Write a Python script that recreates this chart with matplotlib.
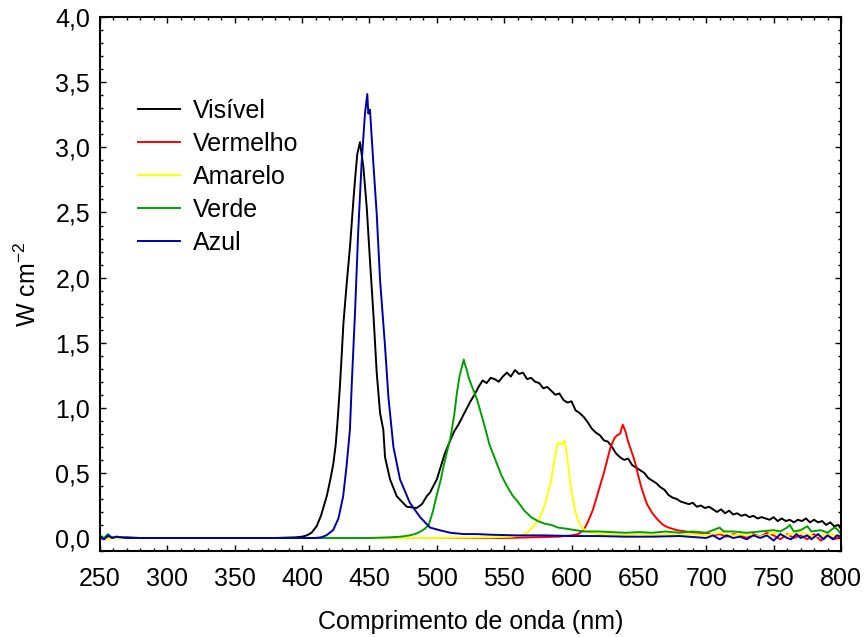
import matplotlib
matplotlib.use("Agg")
import matplotlib.pyplot as plt
from matplotlib.ticker import MultipleLocator, FuncFormatter

plt.rcParams['font.family'] = ['Liberation Sans', 'DejaVu Sans']
plt.rcParams['mathtext.default'] = 'regular'

# Visível (black)
vis_wl = [250, 253, 256, 260, 270, 280, 300, 340, 380, 395, 400, 403.5, 407, 410.8, 414, 418.3,
          421, 423.2, 425, 426.5, 428, 429.4, 430.7, 433.1, 435.6, 438, 439.3, 441, 443, 445.5,
          448, 450.4, 452.9, 455.4, 457.9, 460.3, 461.6, 465.3, 470.3, 477.7, 485, 489, 492.5,
          495, 500, 503, 506, 510, 513, 516, 519, 522, 525, 528, 531, 534, 537, 540, 543, 546,
          549, 552, 555, 558, 561, 564, 567, 570, 573, 576, 579, 582, 585, 588, 591, 594, 597,
          600, 603, 606, 609, 612, 615, 618, 621, 624, 627, 630, 633, 636, 639, 642, 645, 648,
          651, 654, 657, 660, 663, 666, 669, 672, 675, 678, 681, 684, 687, 690, 693, 696, 699,
          702, 705, 708, 711, 714, 717, 720, 723, 726, 729, 732, 735, 738, 741, 744, 747, 750,
          753, 756, 759, 762, 765, 768, 771, 774, 777, 780, 783, 786, 789, 792, 795, 798, 800]
vis_val = [0.01, -0.005, 0.015, 0.0, 0.005, 0.0, 0.0, 0.0, 0.0, 0.005, 0.01, 0.02, 0.04, 0.09,
           0.17, 0.32, 0.45, 0.57, 0.72, 0.92, 1.15, 1.40, 1.65, 1.95, 2.24, 2.58, 2.75, 2.95,
           3.04, 2.85, 2.54, 2.13, 1.73, 1.27, 0.96, 0.83, 0.62, 0.45, 0.32, 0.24, 0.23, 0.26,
           0.32, 0.35, 0.45, 0.55, 0.65, 0.75, 0.82, 0.87, 0.93, 0.99, 1.05, 1.10, 1.16, 1.21,
           1.19, 1.23, 1.22, 1.20, 1.24, 1.27, 1.24, 1.29, 1.26, 1.27, 1.22, 1.23, 1.20, 1.19,
           1.15, 1.16, 1.13, 1.10, 1.11, 1.06, 1.04, 1.05, 0.98, 0.96, 0.93, 0.89, 0.84, 0.81,
           0.79, 0.75, 0.74, 0.70, 0.65, 0.62, 0.60, 0.61, 0.56, 0.54, 0.52, 0.50, 0.46, 0.44,
           0.42, 0.39, 0.37, 0.33, 0.31, 0.30, 0.28, 0.27, 0.26, 0.27, 0.24, 0.25, 0.23, 0.24,
           0.22, 0.20, 0.22, 0.19, 0.21, 0.18, 0.19, 0.17, 0.18, 0.16, 0.17, 0.15, 0.16, 0.15,
           0.14, 0.16, 0.13, 0.15, 0.13, 0.14, 0.12, 0.14, 0.13, 0.15, 0.12, 0.14, 0.12, 0.13,
           0.10, 0.12, 0.09, 0.10, 0.07]

# Vermelho (red)
red_wl = [250, 253, 256, 260, 270, 300, 350, 400, 450, 500, 550, 570, 590, 600, 605, 609, 612,
          616, 620, 624, 627, 629, 632, 634, 636, 638, 640, 642, 644, 646, 648, 649, 651, 653,
          656, 660, 664, 668, 672, 678, 685, 690, 695, 700, 705, 710, 715, 720, 725, 730, 735,
          740, 745, 750, 755, 760, 765, 770, 775, 780, 785, 790, 795, 800]
red_val = [0.0, -0.01, 0.01, 0.0, 0.0, 0.0, 0.0, 0.0, 0.0, 0.0, 0.0, 0.005, 0.01, 0.02, 0.03,
           0.06, 0.12, 0.22, 0.36, 0.50, 0.62, 0.70, 0.77, 0.79, 0.80, 0.87, 0.82, 0.74, 0.68,
           0.62, 0.55, 0.50, 0.42, 0.35, 0.26, 0.19, 0.14, 0.10, 0.08, 0.06, 0.05, 0.04, 0.03,
           0.04, 0.02, 0.03, 0.01, 0.03, 0.02, 0.0, 0.03, 0.01, 0.04, 0.02, -0.01, 0.03, 0.0,
           0.02, -0.01, 0.03, -0.02, 0.02, -0.01, 0.01]

# Amarelo (yellow)
yel_wl = [250, 255, 260, 300, 400, 500, 540, 555, 562, 567, 571, 574, 577, 580, 583, 585, 587,
          589, 590, 592, 594, 595, 596, 598, 599, 601, 603, 605, 607, 610, 614, 620, 630, 640,
          650, 660, 670, 680, 690, 700, 710, 720, 730, 740, 750, 760, 770, 780, 790, 800]
yel_val = [0.0, -0.005, 0.0, 0.0, 0.0, 0.0, 0.005, 0.01, 0.02, 0.04, 0.08, 0.12, 0.17, 0.25,
           0.36, 0.45, 0.58, 0.70, 0.73, 0.72, 0.73, 0.75, 0.68, 0.52, 0.42, 0.30, 0.20, 0.13,
           0.09, 0.06, 0.04, 0.03, 0.03, 0.02, 0.03, 0.02, 0.03, 0.02, 0.03, 0.02, 0.04, 0.02,
           0.03, 0.01, 0.04, 0.02, 0.05, 0.01, 0.03, 0.02]

# Verde (green)
grn_wl = [250, 253, 256, 259, 262, 270, 300, 350, 400, 450, 465, 473, 480, 485, 488, 491, 494,
          497, 500, 503, 505, 508, 510, 513, 515, 517, 519, 520, 521, 522, 524, 527, 530, 533,
          536, 539, 542, 545, 548, 552, 556, 560, 565, 570, 575, 580, 585, 590, 597, 603, 609,
          620, 630, 640, 650, 660, 670, 680, 690, 700, 705, 710, 713, 720, 730, 740, 750, 755,
          760, 762, 765, 770, 775, 778, 785, 790, 795, 797, 800]
grn_val = [0.02, 0.0, 0.03, 0.0, 0.01, 0.0, 0.0, 0.0, 0.0, 0.0, 0.005, 0.01, 0.02, 0.035, 0.05,
           0.07, 0.10, 0.20, 0.33, 0.45, 0.55, 0.68, 0.76, 0.95, 1.12, 1.25, 1.33, 1.37, 1.33,
           1.30, 1.22, 1.14, 1.06, 0.95, 0.84, 0.72, 0.64, 0.56, 0.48, 0.40, 0.33, 0.28, 0.21,
           0.16, 0.13, 0.11, 0.10, 0.08, 0.07, 0.06, 0.05, 0.05, 0.045, 0.04, 0.045, 0.04, 0.05,
           0.04, 0.05, 0.04, 0.06, 0.08, 0.05, 0.05, 0.04, 0.05, 0.06, 0.05, 0.08, 0.10, 0.05,
           0.06, 0.09, 0.05, 0.06, 0.04, 0.08, 0.07, 0.03]

# Azul (blue)
blu_wl = [250, 253, 256, 259, 262, 270, 300, 350, 400, 410, 414, 418, 423, 427, 430.5, 433,
          435.5, 437, 439.3, 441.7, 444.2, 446.7, 448.4, 449.2, 450.4, 452.9, 455.4, 457.9,
          461.6, 464.1, 467.8, 472.7, 480, 487.6, 495, 502, 510, 520, 530, 540, 560, 580, 600,
          620, 640, 660, 680, 700, 705, 710, 715, 720, 725, 730, 735, 740, 745, 750, 755, 760,
          763, 767, 770, 775, 778, 783, 787, 790, 794, 797, 800]
blu_val = [0.01, -0.01, 0.02, 0.0, 0.01, 0.0, 0.0, 0.0, 0.0, 0.0, 0.005, 0.02, 0.06, 0.15, 0.32,
           0.55, 0.83, 1.21, 1.73, 2.36, 2.88, 3.26, 3.41, 3.26, 3.29, 2.88, 2.49, 1.98, 1.47,
           1.08, 0.70, 0.45, 0.27, 0.16, 0.08, 0.06, 0.04, 0.03, 0.03, 0.025, 0.02, 0.02, 0.015,
           0.015, 0.01, 0.01, 0.015, 0.0, 0.02, -0.01, 0.02, 0.0, 0.01, -0.01, 0.02, 0.0, 0.02,
           -0.02, 0.03, 0.0, -0.01, 0.03, 0.0, 0.02, -0.01, 0.03, -0.01, 0.02, -0.01, 0.02, 0.01]

series = [
    ("Visível", vis_wl, vis_val, "black"),
    ("Vermelho", red_wl, red_val, "#ff0000"),
    ("Amarelo", yel_wl, yel_val, "#ffff00"),
    ("Verde", grn_wl, grn_val, "#00a000"),
    ("Azul", blu_wl, blu_val, "#0000a8"),
]

fig = plt.figure(figsize=(8.67, 6.37), dpi=100)
ax = fig.add_axes([0.1153, 0.135, 0.8547, 0.838])

for name, wl, val, color in series:
    ax.plot(wl, val, color=color, lw=1.4, label=name)

ax.set_xlim(250, 800)
ax.set_ylim(-0.1, 4.0)
ax.xaxis.set_major_locator(MultipleLocator(50))
ax.xaxis.set_minor_locator(MultipleLocator(10))
ax.yaxis.set_major_locator(MultipleLocator(0.5))
ax.yaxis.set_minor_locator(MultipleLocator(0.1))
ax.yaxis.set_major_formatter(FuncFormatter(lambda v, p: f"{v:.1f}".replace(".", ",")))

ax.tick_params(which="both", direction="in", top=True, right=True, labelsize=18)
ax.tick_params(which="major", length=4, width=1)
ax.tick_params(which="minor", length=2.5, width=1)
ax.tick_params(axis="x", pad=11.3)
ax.tick_params(axis="y", pad=7)
for sp in ax.spines.values():
    sp.set_linewidth(1.5)

ax.set_xlabel("Comprimento de onda (nm)", fontsize=18, labelpad=14)
ax.set_ylabel("W cm$^{-2}$", fontsize=18, labelpad=10)

ax.legend(loc="upper left", bbox_to_anchor=(0.051, 0.847), frameon=False, fontsize=18,
          handlelength=1.68, handletextpad=0.52, labelspacing=0.36, borderpad=0,
          borderaxespad=0)

fig.savefig("out.png", dpi=100)
